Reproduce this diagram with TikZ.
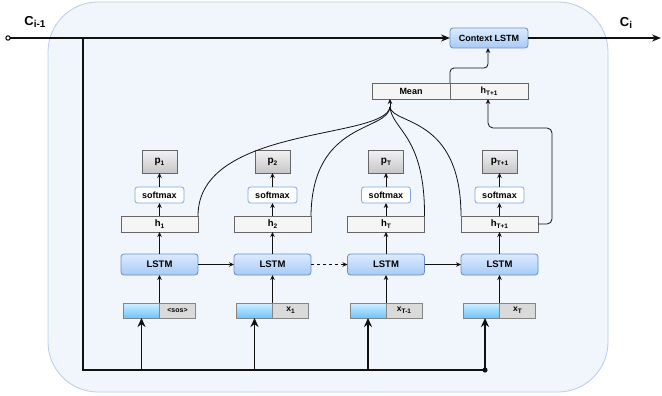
\documentclass[tikz,border=0pt]{standalone}
\usepackage{fontspec}
\setmainfont{Liberation Sans}
\usetikzlibrary{arrows.meta}
\definecolor{bgfill}{HTML}{F1F6FD}
\definecolor{bgdraw}{HTML}{B8CBEA}
\definecolor{lstmdraw}{HTML}{6C8EBF}
\definecolor{lstmtop}{HTML}{DCEBFE}
\definecolor{lstmbot}{HTML}{A6CAF6}
\definecolor{softdraw}{HTML}{7EA6E0}
\definecolor{graydraw}{HTML}{666666}
\definecolor{hfill}{HTML}{F5F5F5}
\definecolor{ptop}{HTML}{F2F2F2}
\definecolor{pbot}{HTML}{C6C6C6}
\definecolor{inbtop}{HTML}{D2EEFF}
\definecolor{inbbot}{HTML}{6CC4FF}
\definecolor{ingfill}{HTML}{DADADA}
\definecolor{linec}{HTML}{111111}
\newcommand{\sbs}[1]{\raisebox{-0.35ex}{\fontsize{6.5}{7}\selectfont #1}}
\begin{document}
\begin{tikzpicture}[x=1pt,y=-1pt,
  every node/.style={inner sep=0pt,outer sep=0pt},
  lstmbox/.style={rectangle,rounded corners=3pt,draw=lstmdraw,line width=0.8pt,top color=lstmtop,bottom color=lstmbot,minimum width=77pt,minimum height=21pt,font=\bfseries\fontsize{9.5}{10}\selectfont},
  softbox/.style={rectangle,rounded corners=2.5pt,draw=softdraw,line width=0.8pt,fill=white,minimum width=49pt,minimum height=16pt,font=\bfseries\fontsize{9}{10}\selectfont},
  pbox/.style={rectangle,draw=graydraw,line width=0.6pt,top color=ptop,bottom color=pbot,minimum width=35pt,minimum height=23pt,font=\bfseries\fontsize{10}{11}\selectfont},
  hbox/.style={rectangle,draw=graydraw,line width=0.6pt,fill=hfill,minimum width=77pt,minimum height=16pt,font=\bfseries\fontsize{9.5}{10}\selectfont},
  meanbox/.style={rectangle,draw=graydraw,line width=0.6pt,fill=hfill,minimum width=78pt,minimum height=16pt,font=\bfseries\fontsize{9}{10}\selectfont},
  inblue/.style={rectangle,draw=graydraw!80,line width=0.6pt,top color=inbtop,bottom color=inbbot,minimum width=36pt,minimum height=15pt},
  ingray/.style={rectangle,draw=graydraw!80,line width=0.6pt,fill=ingfill,minimum width=36pt,minimum height=15pt,font=\bfseries\fontsize{8.5}{9}\selectfont},
  thinarrow/.style={draw=linec,line width=0.8pt,-{Stealth[length=5pt,width=4.5pt]}},
  curvy/.style={draw=linec,line width=0.8pt},
  mainline/.style={draw=linec,line width=1.5pt},
  bigarrow/.style={draw=linec,line width=1.8pt,-{Stealth[length=9pt,width=8pt]}},
  clabel/.style={font=\bfseries\fontsize{13}{14}\selectfont}
]
\useasboundingbox (0,0) rectangle (662,396);
% background
\draw[fill=bgfill,draw=bgdraw,line width=0.8pt,rounded corners=50pt] (48,2) rectangle (608,392);

% columns
\foreach \i/\cx/\pl/\hl/\xl in {1/159.5/p\sbs{1}/h\sbs{1}/{\fontsize{7}{8}\selectfont<sos>},
                                  2/272.5/p\sbs{2}/h\sbs{2}/x\sbs{1},
                                  3/386/p\sbs{T}/h\sbs{T}/x\sbs{T-1},
                                  4/499.5/p\sbs{T+1}/h\sbs{T+1}/x\sbs{T}} {
  \node[pbox] (p\i) at (\cx,161.5) {\pl};
  \node[softbox] (s\i) at (\cx,195) {softmax};
  \node[hbox] (h\i) at (\cx,224) {\hl};
  \node[lstmbox] (l\i) at (\cx,264.5) {LSTM};
  \node[inblue,anchor=east] (ib\i) at (\cx,310.5) {};
  \node[ingray,anchor=west] (ig\i) at (\cx,310.5) {\xl};
  \draw[thinarrow] (ib\i.north east) -- (l\i.south);
  \draw[thinarrow] (l\i.north) -- (h\i.south);
  \draw[thinarrow] (h\i.north) -- (s\i.south);
  \draw[thinarrow] (s\i.north) -- (p\i.south);
}
\draw[thinarrow] (l1.east) -- (l2.west);
\draw[thinarrow,dashed] (l2.east) -- (l3.west);
\draw[thinarrow] (l3.east) -- (l4.west);

% top nodes
\node[lstmbox,minimum width=78pt,minimum height=20pt,font=\bfseries\fontsize{9}{10}\selectfont] (ctx) at (489,38) {Context LSTM};
\node[meanbox] (mean) at (411,91) {Mean};
\node[meanbox] (htop) at (489,91) {h\sbs{T+1}};

% main lines
\coordinate (cin) at (8,38);
\coordinate (cj) at (83,38);
\coordinate (bl) at (83,370);
\coordinate (br) at (485,370);
\coordinate (cout) at (661,38);
\draw[mainline] (cin) -- (cj);
\draw[mainline,-{Stealth[length=9pt,width=7pt]}] (cj) -- (ctx.west);
\draw[mainline] (cj) -- (bl) -- (br);
\draw[mainline,-{Stealth[length=9pt,width=7pt]}] (ctx.east) -- (cout);
\draw[line width=1pt,fill=white] (cin) circle (2.2pt);
\fill[linec] (br) circle (2.6pt);
\node[clabel] (cl1) at (35,22) {C\raisebox{-0.4ex}{\fontsize{10}{11}\selectfont i-1}};
\node[clabel] (cl2) at (626,23) {C\raisebox{-0.4ex}{\fontsize{10}{11}\selectfont i}};

% thick input arrows
\draw[bigarrow] (ib1.south |- bl) -- (ib1.south);
\draw[bigarrow] (ib2.south |- bl) -- (ib2.south);
\draw[bigarrow] (ib3.south |- bl) -- (ib3.south);
\draw[bigarrow] (br) -- (br |- ib4.south);

% to context LSTM
\draw[thinarrow,rounded corners=4pt] (mean.north east) -- (450,68) -- (488,68) -- (488,48);
% h_{T+1} to top
\draw[thinarrow,rounded corners=5pt] (h4.east) -- (552,224) -- (552,128) -- (488,128) -- (488,99);

% curves to mean
\coordinate (mn) at (390,99);
\draw[curvy] (h1.north east) .. controls (198,125) and (385,140) .. (390,107);
\draw[curvy] (h2.north east) .. controls (312,120) and (388,132) .. (390,107);
\draw[curvy] (h3.north east) .. controls (425,135) and (392,130) .. (390,107);
\draw[curvy] (h4.north west) .. controls (461,115) and (392,125) .. (390,107);
\draw[thinarrow] (390,107) -- (mn);
\end{tikzpicture}
\end{document}
